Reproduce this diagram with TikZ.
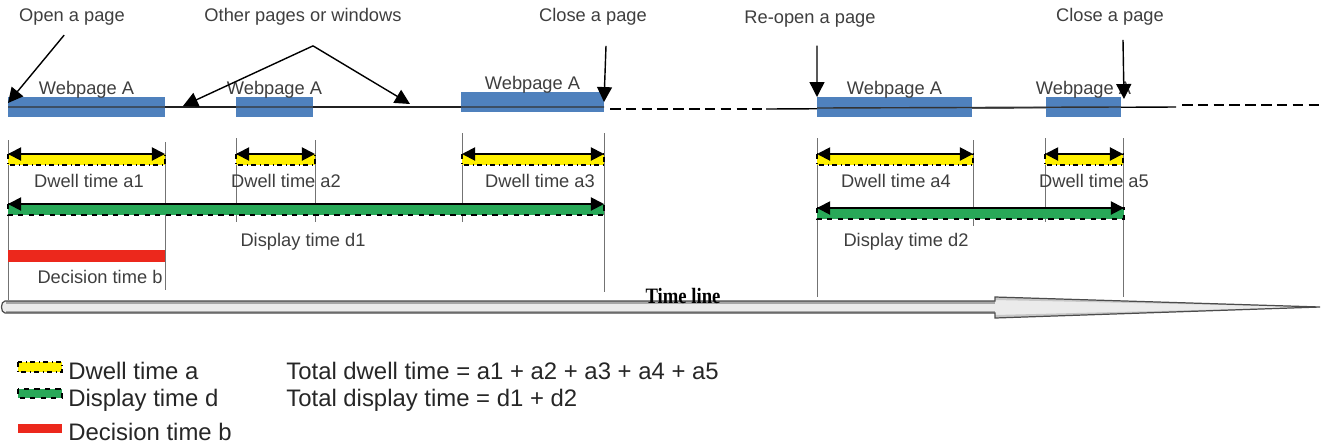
\documentclass[tikz,border=0pt]{standalone}
\usepackage{fontspec}
\setmainfont{Liberation Sans}
\newfontfamily\serifbold{Liberation Serif}
\usetikzlibrary{arrows.meta}
\definecolor{pageblue}{RGB}{79,129,189}
\definecolor{dwellyellow}{RGB}{255,240,0}
\definecolor{dispgreen}{RGB}{40,168,88}
\definecolor{decred}{RGB}{236,40,28}
\definecolor{txtgray}{RGB}{62,62,62}
\tikzset{
  lbl/.style={font=\fontsize{10.4}{12}\selectfont,text=txtgray,inner sep=0pt},
  legtxt/.style={font=\fontsize{13.6}{16}\selectfont,text=black!85,inner sep=0pt,anchor=base west},
  dwellbar/.style={fill=dwellyellow,draw=black,dash dot,line width=0.6pt},
  dispbar/.style={fill=dispgreen,draw=black,dashed,line width=0.6pt},
  span/.style={{Triangle[length=7.5pt,width=7.5pt]}-{Triangle[length=7.5pt,width=7.5pt]},line width=1.1pt},
  pointer/.style={-{Triangle[length=8.5pt,width=8.5pt]},line width=0.8pt},
  guide/.style={draw=black!55,line width=0.4pt},
}
\begin{document}
\begin{tikzpicture}[x=0.02cm,y=-0.02cm]
  \useasboundingbox (0,0) rectangle (1322,444);
  % event labels on top
  \node[lbl] (open)   at (72,17)   {Open a page};
  \node[lbl] (other)  at (303,17)  {Other pages or windows};
  \node[lbl] (close1) at (593,17)  {Close a page};
  \node[lbl] (reopen) at (810,19)  {Re-open a page};
  \node[lbl] (close2) at (1110,17) {Close a page};
  % page line, dashed where the page is closed
  \draw[line width=0.8pt] (8,107) -- (604,107);
  \draw[line width=0.8pt,dashed,dash pattern=on 6pt off 3pt] (610,109) -- (762,109);
  \draw[line width=0.8pt] (766,109) -- (1176,107);
  \draw[line width=0.8pt,dashed,dash pattern=on 6pt off 3pt] (1182,105) -- (1322,105);
  % webpage A blocks
  \foreach \i/\l/\r/\t in {1/8/165/97, 2/236/313/97, 3/461/604/92, 4/817/972/97, 5/1046/1121/97} {
    \fill[pageblue] (\l,\t) rectangle (\r,\t+20);
    \coordinate (pg\i-nw) at (\l,\t);
    \coordinate (pg\i-ne) at (\r,\t);
    \node[lbl,anchor=base] (web\i) at ({(\l+\r)/2},\t-3) {Webpage A};
  }
  \draw[line width=0.8pt,black!80] (8,107) -- (604,107) (817,108) -- (1121,107);
  % pointers
  \coordinate (fork) at ([xshift=0.2cm,yshift=-0.4cm]other.south);
  \coordinate (gap1) at (183,106);
  \coordinate (gap2) at (410,104);
  \draw[pointer,shorten <=7pt] (open.south) -- ([yshift=-0.12cm]pg1-nw);
  \draw[pointer] (fork) -- (gap1);
  \draw[pointer] (fork) -- (gap2);
  \draw[pointer] ([xshift=0.26cm,yshift=-0.4cm]close1.south) -- ([yshift=-0.2cm]pg3-ne);
  \draw[pointer] ([xshift=0.14cm,yshift=-0.36cm]reopen.south) -- (pg4-nw);
  \draw[pointer] ([xshift=0.26cm,yshift=-0.28cm]close2.south) -- ([xshift=0.06cm,yshift=-0.04cm]pg5-ne);
  % guide lines
  \foreach \x/\a/\b in {8/140/300, 165/142/290, 236/138/222, 315/140/222, 462/133/222,
      604/133/292, 817/138/297, 973/140/226, 1045/138/222, 1123/138/297}
    \draw[guide] (\x,\a) -- (\x,\b);
  % dwell times
  \foreach \n/\l/\r/\c in {1/8/165/89, 2/236/315/286, 3/462/604/540, 4/817/973/896, 5/1045/1123/1094} {
    \draw[dwellbar] (\l,154) rectangle (\r,165);
    \coordinate (dw\n-l) at (\l,154);
    \coordinate (dw\n-r) at (\r,154);
    \draw[span] (dw\n-l) -- (dw\n-r);
    \node[lbl] (dwl\n) at (\c,181) {Dwell time a\n};
  }
  % display times
  \foreach \n/\l/\r/\y/\c in {1/8/604/204/303, 2/817/1124/208/906} {
    \draw[dispbar] (\l,\y) rectangle (\r,\y+11);
    \coordinate (dp\n-l) at (\l,\y);
    \coordinate (dp\n-r) at (\r,\y);
    \draw[span] (dp\n-l) -- (dp\n-r);
    \node[lbl] (dpl\n) at (\c,242) {Display time d\n};
  }
  % decision time
  \fill[decred] (8,250) rectangle (165,262);
  \node[lbl] (dec) at (100,277) {Decision time b};
  % time line arrow (light body, darker bands at the edges of the shaft)
  \fill[black!8] (5,301) -- (995,301) -- (995,297) -- (1320,307) -- (995,318) -- (995,313) -- (5,313)
    to[out=180,in=180] cycle;
  \fill[black!35] (6,301) rectangle (995,303.5);
  \fill[black!35] (6,310.5) rectangle (995,313);
  \fill[black!22] (995,297) -- (1320,307) -- (995,300) -- cycle;
  \fill[black!22] (995,318) -- (1320,307) -- (995,315) -- cycle;
  \draw[black!70,line width=0.7pt] (5,301) -- (995,301) -- (995,297) -- (1320,307) -- (995,318)
    -- (995,313) -- (5,313) to[out=180,in=180] cycle;
  \node[font=\serifbold\bfseries\fontsize{12.5}{14}\selectfont,inner sep=0pt,xscale=0.85] (tl) at (683,296) {Time line};
  % legend
  \draw[dwellbar] (18,362) rectangle (62,372);
  \draw[dispbar] (18,389) rectangle (62,398);
  \fill[decred] (18,424) rectangle (62,433);
  \node[legtxt] (lga) at (68,379) {Dwell time a};
  \node[legtxt] (lgd) at (68,406) {Display time d};
  \node[legtxt] (lgb) at (68,440) {Decision time b};
  \node[legtxt] (tot1) at (286,379) {Total dwell time = a1 + a2 + a3 + a4 + a5};
  \node[legtxt] (tot2) at (286,406) {Total display time = d1 + d2};
\end{tikzpicture}
\end{document}
